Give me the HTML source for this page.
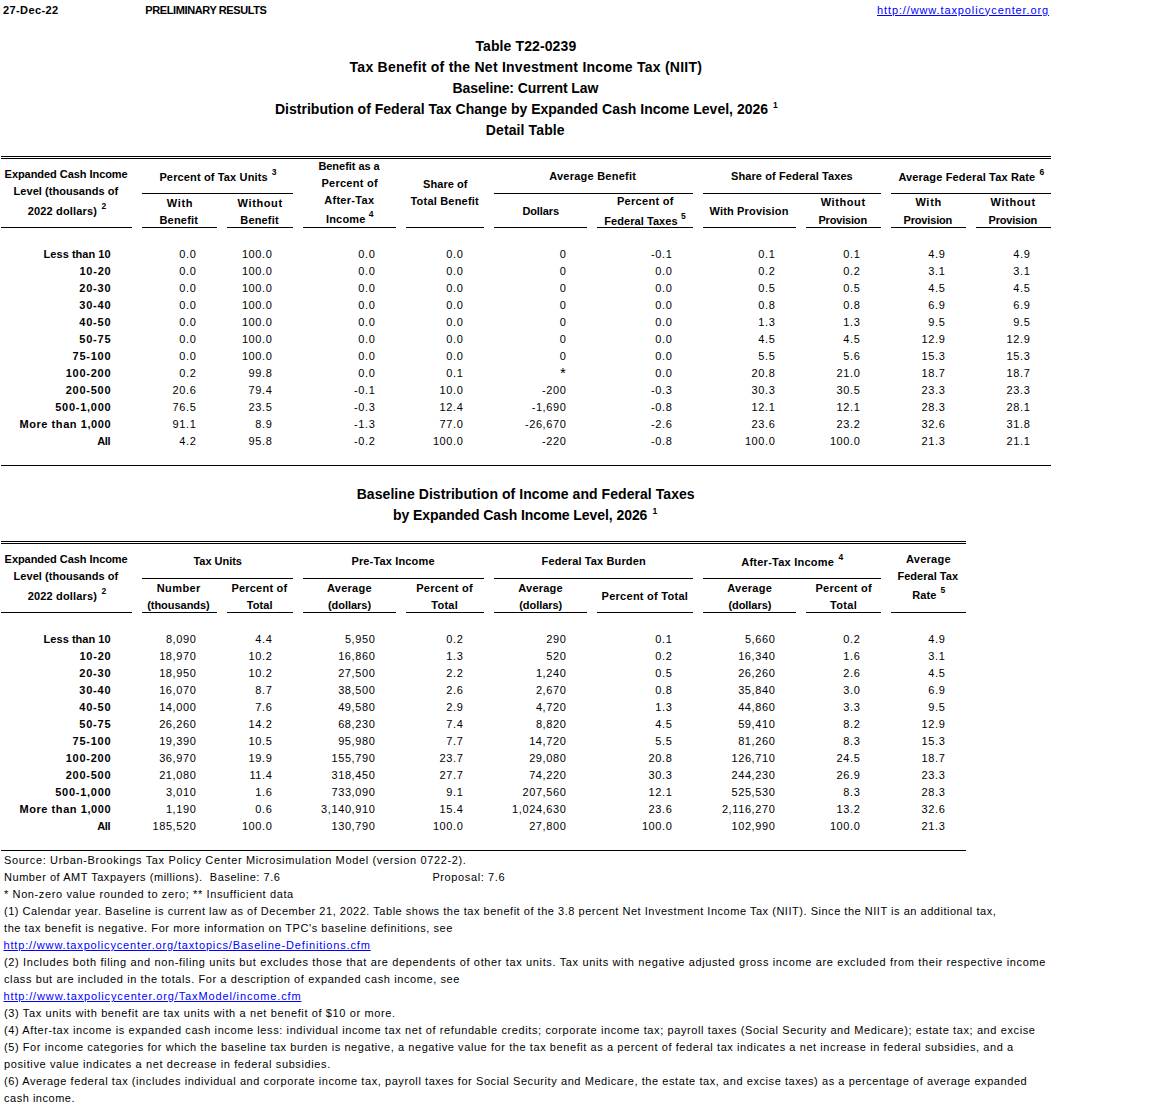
<!DOCTYPE html>
<html><head><meta charset="utf-8"><title>T22-0239</title>
<style>
html,body{margin:0;padding:0;background:#fff;}
body{width:1152px;height:1106px;position:relative;overflow:hidden;font-family:"Liberation Sans",sans-serif;color:#000;}
div{position:absolute;white-space:pre;line-height:0;height:0;}
.b{font-weight:bold;font-size:11px;}
.r{font-weight:normal;font-size:11px;}
.t{font-weight:bold;font-size:14px;}
.s{font-weight:bold;font-size:8.5px;}
.a{font-weight:normal;font-size:15px;}
.sr{font-weight:normal;font-size:7px;}
i{position:absolute;display:block;background:#000;}
</style></head><body>
<div class="b" style="left:3.00px;top:10.19px;letter-spacing:0.393px;">27-Dec-22</div>
<div class="b" style="left:145.30px;top:10.19px;letter-spacing:-0.395px;">PRELIMINARY RESULTS</div>
<div class="r" style="left:877.00px;top:9.69px;letter-spacing:0.883px;color:#0000ff;text-decoration:underline;">http://www.taxpolicycenter.org</div>
<div class="t" style="left:475.40px;top:46.15px;letter-spacing:0.111px;">Table T22-0239</div>
<div class="t" style="left:349.60px;top:67.15px;letter-spacing:0.243px;">Tax Benefit of the Net Investment Income Tax (NIIT)</div>
<div class="t" style="left:452.50px;top:88.15px;letter-spacing:-0.096px;">Baseline: Current Law</div>
<div class="t" style="left:275.00px;top:109.15px;letter-spacing:0.013px;">Distribution of Federal Tax Change by Expanded Cash Income Level, 2026</div>
<div class="s" style="left:773.00px;top:105.05px;">1</div>
<div class="t" style="left:485.80px;top:130.15px;letter-spacing:0.113px;">Detail Table</div>
<div class="b" style="left:4.60px;top:174.19px;letter-spacing:-0.051px;">Expanded Cash Income</div>
<div class="b" style="left:13.60px;top:191.19px;letter-spacing:0.037px;">Level (thousands of</div>
<div class="b" style="left:27.70px;top:211.19px;letter-spacing:0.159px;">2022 dollars)</div>
<div class="s" style="left:101.50px;top:206.05px;">2</div>
<div class="b" style="left:159.40px;top:177.19px;letter-spacing:0.141px;">Percent of Tax Units</div>
<div class="s" style="left:271.70px;top:172.05px;">3</div>
<div class="b" style="left:166.70px;top:202.69px;letter-spacing:0.698px;">With</div>
<div class="b" style="left:159.40px;top:220.19px;letter-spacing:0.214px;">Benefit</div>
<div class="b" style="left:237.60px;top:202.69px;letter-spacing:0.606px;">Without</div>
<div class="b" style="left:240.30px;top:220.19px;letter-spacing:0.164px;">Benefit</div>
<div class="b" style="left:318.40px;top:166.19px;letter-spacing:-0.039px;">Benefit as a</div>
<div class="b" style="left:321.40px;top:183.19px;letter-spacing:0.275px;">Percent of</div>
<div class="b" style="left:324.20px;top:200.19px;letter-spacing:0.293px;">After-Tax</div>
<div class="b" style="left:325.90px;top:219.39px;letter-spacing:0.201px;">Income</div>
<div class="s" style="left:368.80px;top:214.05px;">4</div>
<div class="b" style="left:423.10px;top:183.79px;letter-spacing:0.036px;">Share of</div>
<div class="b" style="left:410.50px;top:200.69px;letter-spacing:0.197px;">Total Benefit</div>
<div class="b" style="left:549.20px;top:175.69px;letter-spacing:0.237px;">Average Benefit</div>
<div class="b" style="left:522.40px;top:210.89px;letter-spacing:-0.112px;">Dollars</div>
<div class="b" style="left:617.00px;top:200.89px;letter-spacing:0.286px;">Percent of</div>
<div class="b" style="left:604.30px;top:220.89px;letter-spacing:0.055px;">Federal Taxes</div>
<div class="s" style="left:681.00px;top:216.05px;">5</div>
<div class="b" style="left:731.00px;top:175.99px;letter-spacing:0.100px;">Share of Federal Taxes</div>
<div class="b" style="left:709.60px;top:210.59px;letter-spacing:0.147px;">With Provision</div>
<div class="b" style="left:820.70px;top:202.39px;letter-spacing:0.590px;">Without</div>
<div class="b" style="left:818.40px;top:219.69px;letter-spacing:-0.175px;">Provision</div>
<div class="b" style="left:898.40px;top:176.69px;letter-spacing:0.154px;">Average Federal Tax Rate</div>
<div class="s" style="left:1039.60px;top:172.05px;">6</div>
<div class="b" style="left:915.40px;top:202.49px;letter-spacing:0.698px;">With</div>
<div class="b" style="left:903.50px;top:219.69px;letter-spacing:-0.163px;">Provision</div>
<div class="b" style="left:990.60px;top:202.49px;letter-spacing:0.606px;">Without</div>
<div class="b" style="left:988.60px;top:219.69px;letter-spacing:-0.200px;">Provision</div>
<div class="b" style="left:43.60px;top:254.19px;letter-spacing:0.034px;">Less than 10</div>
<div class="b" style="left:79.50px;top:271.19px;letter-spacing:0.746px;">10-20</div>
<div class="b" style="left:79.30px;top:288.19px;letter-spacing:0.796px;">20-30</div>
<div class="b" style="left:79.30px;top:305.19px;letter-spacing:0.796px;">30-40</div>
<div class="b" style="left:79.30px;top:322.19px;letter-spacing:0.796px;">40-50</div>
<div class="b" style="left:79.30px;top:339.19px;letter-spacing:0.796px;">50-75</div>
<div class="b" style="left:72.50px;top:356.19px;letter-spacing:0.773px;">75-100</div>
<div class="b" style="left:65.70px;top:373.19px;letter-spacing:0.758px;">100-200</div>
<div class="b" style="left:65.70px;top:390.19px;letter-spacing:0.758px;">200-500</div>
<div class="b" style="left:55.20px;top:407.19px;letter-spacing:0.734px;">500-1,000</div>
<div class="b" style="left:19.40px;top:424.19px;letter-spacing:0.577px;">More than 1,000</div>
<div class="b" style="left:97.20px;top:441.19px;letter-spacing:-0.350px;">All</div>
<div class="r" style="left:179.33px;top:254.19px;letter-spacing:0.600px;">0.0</div>
<div class="r" style="left:179.33px;top:271.19px;letter-spacing:0.600px;">0.0</div>
<div class="r" style="left:179.33px;top:288.19px;letter-spacing:0.600px;">0.0</div>
<div class="r" style="left:179.33px;top:305.19px;letter-spacing:0.600px;">0.0</div>
<div class="r" style="left:179.33px;top:322.19px;letter-spacing:0.600px;">0.0</div>
<div class="r" style="left:179.33px;top:339.19px;letter-spacing:0.600px;">0.0</div>
<div class="r" style="left:179.33px;top:356.19px;letter-spacing:0.600px;">0.0</div>
<div class="r" style="left:179.33px;top:373.19px;letter-spacing:0.600px;">0.2</div>
<div class="r" style="left:172.61px;top:390.19px;letter-spacing:0.600px;">20.6</div>
<div class="r" style="left:172.61px;top:407.19px;letter-spacing:0.600px;">76.5</div>
<div class="r" style="left:172.61px;top:424.19px;letter-spacing:0.600px;">91.1</div>
<div class="r" style="left:179.33px;top:441.19px;letter-spacing:0.600px;">4.2</div>
<div class="r" style="left:241.89px;top:254.19px;letter-spacing:0.600px;">100.0</div>
<div class="r" style="left:241.89px;top:271.19px;letter-spacing:0.600px;">100.0</div>
<div class="r" style="left:241.89px;top:288.19px;letter-spacing:0.600px;">100.0</div>
<div class="r" style="left:241.89px;top:305.19px;letter-spacing:0.600px;">100.0</div>
<div class="r" style="left:241.89px;top:322.19px;letter-spacing:0.600px;">100.0</div>
<div class="r" style="left:241.89px;top:339.19px;letter-spacing:0.600px;">100.0</div>
<div class="r" style="left:241.89px;top:356.19px;letter-spacing:0.600px;">100.0</div>
<div class="r" style="left:248.61px;top:373.19px;letter-spacing:0.600px;">99.8</div>
<div class="r" style="left:248.61px;top:390.19px;letter-spacing:0.600px;">79.4</div>
<div class="r" style="left:248.61px;top:407.19px;letter-spacing:0.600px;">23.5</div>
<div class="r" style="left:255.33px;top:424.19px;letter-spacing:0.600px;">8.9</div>
<div class="r" style="left:248.61px;top:441.19px;letter-spacing:0.600px;">95.8</div>
<div class="r" style="left:358.33px;top:254.19px;letter-spacing:0.600px;">0.0</div>
<div class="r" style="left:358.33px;top:271.19px;letter-spacing:0.600px;">0.0</div>
<div class="r" style="left:358.33px;top:288.19px;letter-spacing:0.600px;">0.0</div>
<div class="r" style="left:358.33px;top:305.19px;letter-spacing:0.600px;">0.0</div>
<div class="r" style="left:358.33px;top:322.19px;letter-spacing:0.600px;">0.0</div>
<div class="r" style="left:358.33px;top:339.19px;letter-spacing:0.600px;">0.0</div>
<div class="r" style="left:358.33px;top:356.19px;letter-spacing:0.600px;">0.0</div>
<div class="r" style="left:358.33px;top:373.19px;letter-spacing:0.600px;">0.0</div>
<div class="r" style="left:354.06px;top:390.19px;letter-spacing:0.600px;">-0.1</div>
<div class="r" style="left:354.06px;top:407.19px;letter-spacing:0.600px;">-0.3</div>
<div class="r" style="left:354.06px;top:424.19px;letter-spacing:0.600px;">-1.3</div>
<div class="r" style="left:354.06px;top:441.19px;letter-spacing:0.600px;">-0.2</div>
<div class="r" style="left:446.33px;top:254.19px;letter-spacing:0.600px;">0.0</div>
<div class="r" style="left:446.33px;top:271.19px;letter-spacing:0.600px;">0.0</div>
<div class="r" style="left:446.33px;top:288.19px;letter-spacing:0.600px;">0.0</div>
<div class="r" style="left:446.33px;top:305.19px;letter-spacing:0.600px;">0.0</div>
<div class="r" style="left:446.33px;top:322.19px;letter-spacing:0.600px;">0.0</div>
<div class="r" style="left:446.33px;top:339.19px;letter-spacing:0.600px;">0.0</div>
<div class="r" style="left:446.33px;top:356.19px;letter-spacing:0.600px;">0.0</div>
<div class="r" style="left:446.33px;top:373.19px;letter-spacing:0.600px;">0.1</div>
<div class="r" style="left:439.61px;top:390.19px;letter-spacing:0.600px;">10.0</div>
<div class="r" style="left:439.61px;top:407.19px;letter-spacing:0.600px;">12.4</div>
<div class="r" style="left:439.61px;top:424.19px;letter-spacing:0.600px;">77.0</div>
<div class="r" style="left:432.89px;top:441.19px;letter-spacing:0.600px;">100.0</div>
<div class="r" style="left:559.70px;top:254.19px;letter-spacing:0.600px;">0</div>
<div class="r" style="left:559.70px;top:271.19px;letter-spacing:0.600px;">0</div>
<div class="r" style="left:559.70px;top:288.19px;letter-spacing:0.600px;">0</div>
<div class="r" style="left:559.70px;top:305.19px;letter-spacing:0.600px;">0</div>
<div class="r" style="left:559.70px;top:322.19px;letter-spacing:0.600px;">0</div>
<div class="r" style="left:559.70px;top:339.19px;letter-spacing:0.600px;">0</div>
<div class="r" style="left:559.70px;top:356.19px;letter-spacing:0.600px;">0</div>
<div class="a" style="left:560.10px;top:372.80px;">*</div>
<div class="r" style="left:542.00px;top:390.19px;letter-spacing:0.600px;">-200</div>
<div class="r" style="left:531.63px;top:407.19px;letter-spacing:0.600px;">-1,690</div>
<div class="r" style="left:524.91px;top:424.19px;letter-spacing:0.600px;">-26,670</div>
<div class="r" style="left:542.00px;top:441.19px;letter-spacing:0.600px;">-220</div>
<div class="r" style="left:651.06px;top:254.19px;letter-spacing:0.600px;">-0.1</div>
<div class="r" style="left:655.33px;top:271.19px;letter-spacing:0.600px;">0.0</div>
<div class="r" style="left:655.33px;top:288.19px;letter-spacing:0.600px;">0.0</div>
<div class="r" style="left:655.33px;top:305.19px;letter-spacing:0.600px;">0.0</div>
<div class="r" style="left:655.33px;top:322.19px;letter-spacing:0.600px;">0.0</div>
<div class="r" style="left:655.33px;top:339.19px;letter-spacing:0.600px;">0.0</div>
<div class="r" style="left:655.33px;top:356.19px;letter-spacing:0.600px;">0.0</div>
<div class="r" style="left:655.33px;top:373.19px;letter-spacing:0.600px;">0.0</div>
<div class="r" style="left:651.06px;top:390.19px;letter-spacing:0.600px;">-0.3</div>
<div class="r" style="left:651.06px;top:407.19px;letter-spacing:0.600px;">-0.8</div>
<div class="r" style="left:651.06px;top:424.19px;letter-spacing:0.600px;">-2.6</div>
<div class="r" style="left:651.06px;top:441.19px;letter-spacing:0.600px;">-0.8</div>
<div class="r" style="left:758.33px;top:254.19px;letter-spacing:0.600px;">0.1</div>
<div class="r" style="left:758.33px;top:271.19px;letter-spacing:0.600px;">0.2</div>
<div class="r" style="left:758.33px;top:288.19px;letter-spacing:0.600px;">0.5</div>
<div class="r" style="left:758.33px;top:305.19px;letter-spacing:0.600px;">0.8</div>
<div class="r" style="left:758.33px;top:322.19px;letter-spacing:0.600px;">1.3</div>
<div class="r" style="left:758.33px;top:339.19px;letter-spacing:0.600px;">4.5</div>
<div class="r" style="left:758.33px;top:356.19px;letter-spacing:0.600px;">5.5</div>
<div class="r" style="left:751.61px;top:373.19px;letter-spacing:0.600px;">20.8</div>
<div class="r" style="left:751.61px;top:390.19px;letter-spacing:0.600px;">30.3</div>
<div class="r" style="left:751.61px;top:407.19px;letter-spacing:0.600px;">12.1</div>
<div class="r" style="left:751.61px;top:424.19px;letter-spacing:0.600px;">23.6</div>
<div class="r" style="left:744.89px;top:441.19px;letter-spacing:0.600px;">100.0</div>
<div class="r" style="left:843.33px;top:254.19px;letter-spacing:0.600px;">0.1</div>
<div class="r" style="left:843.33px;top:271.19px;letter-spacing:0.600px;">0.2</div>
<div class="r" style="left:843.33px;top:288.19px;letter-spacing:0.600px;">0.5</div>
<div class="r" style="left:843.33px;top:305.19px;letter-spacing:0.600px;">0.8</div>
<div class="r" style="left:843.33px;top:322.19px;letter-spacing:0.600px;">1.3</div>
<div class="r" style="left:843.33px;top:339.19px;letter-spacing:0.600px;">4.5</div>
<div class="r" style="left:843.33px;top:356.19px;letter-spacing:0.600px;">5.6</div>
<div class="r" style="left:836.61px;top:373.19px;letter-spacing:0.600px;">21.0</div>
<div class="r" style="left:836.61px;top:390.19px;letter-spacing:0.600px;">30.5</div>
<div class="r" style="left:836.61px;top:407.19px;letter-spacing:0.600px;">12.1</div>
<div class="r" style="left:836.61px;top:424.19px;letter-spacing:0.600px;">23.2</div>
<div class="r" style="left:829.89px;top:441.19px;letter-spacing:0.600px;">100.0</div>
<div class="r" style="left:928.33px;top:254.19px;letter-spacing:0.600px;">4.9</div>
<div class="r" style="left:928.33px;top:271.19px;letter-spacing:0.600px;">3.1</div>
<div class="r" style="left:928.33px;top:288.19px;letter-spacing:0.600px;">4.5</div>
<div class="r" style="left:928.33px;top:305.19px;letter-spacing:0.600px;">6.9</div>
<div class="r" style="left:928.33px;top:322.19px;letter-spacing:0.600px;">9.5</div>
<div class="r" style="left:921.61px;top:339.19px;letter-spacing:0.600px;">12.9</div>
<div class="r" style="left:921.61px;top:356.19px;letter-spacing:0.600px;">15.3</div>
<div class="r" style="left:921.61px;top:373.19px;letter-spacing:0.600px;">18.7</div>
<div class="r" style="left:921.61px;top:390.19px;letter-spacing:0.600px;">23.3</div>
<div class="r" style="left:921.61px;top:407.19px;letter-spacing:0.600px;">28.3</div>
<div class="r" style="left:921.61px;top:424.19px;letter-spacing:0.600px;">32.6</div>
<div class="r" style="left:921.61px;top:441.19px;letter-spacing:0.600px;">21.3</div>
<div class="r" style="left:1013.33px;top:254.19px;letter-spacing:0.600px;">4.9</div>
<div class="r" style="left:1013.33px;top:271.19px;letter-spacing:0.600px;">3.1</div>
<div class="r" style="left:1013.33px;top:288.19px;letter-spacing:0.600px;">4.5</div>
<div class="r" style="left:1013.33px;top:305.19px;letter-spacing:0.600px;">6.9</div>
<div class="r" style="left:1013.33px;top:322.19px;letter-spacing:0.600px;">9.5</div>
<div class="r" style="left:1006.61px;top:339.19px;letter-spacing:0.600px;">12.9</div>
<div class="r" style="left:1006.61px;top:356.19px;letter-spacing:0.600px;">15.3</div>
<div class="r" style="left:1006.61px;top:373.19px;letter-spacing:0.600px;">18.7</div>
<div class="r" style="left:1006.61px;top:390.19px;letter-spacing:0.600px;">23.3</div>
<div class="r" style="left:1006.61px;top:407.19px;letter-spacing:0.600px;">28.1</div>
<div class="r" style="left:1006.61px;top:424.19px;letter-spacing:0.600px;">31.8</div>
<div class="r" style="left:1006.61px;top:441.19px;letter-spacing:0.600px;">21.1</div>
<div class="t" style="left:356.70px;top:494.45px;letter-spacing:0.061px;">Baseline Distribution of Income and Federal Taxes</div>
<div class="t" style="left:393.00px;top:515.15px;letter-spacing:-0.070px;">by Expanded Cash Income Level, 2026</div>
<div class="s" style="left:652.50px;top:511.05px;">1</div>
<div class="b" style="left:4.60px;top:559.19px;letter-spacing:-0.051px;">Expanded Cash Income</div>
<div class="b" style="left:13.60px;top:576.19px;letter-spacing:0.037px;">Level (thousands of</div>
<div class="b" style="left:27.70px;top:596.19px;letter-spacing:0.159px;">2022 dollars)</div>
<div class="s" style="left:101.50px;top:591.05px;">2</div>
<div class="b" style="left:193.50px;top:560.59px;letter-spacing:-0.035px;">Tax Units</div>
<div class="b" style="left:156.70px;top:587.69px;letter-spacing:0.424px;">Number</div>
<div class="b" style="left:147.20px;top:604.59px;letter-spacing:-0.038px;">(thousands)</div>
<div class="b" style="left:231.40px;top:587.69px;letter-spacing:0.219px;">Percent of</div>
<div class="b" style="left:246.70px;top:604.59px;letter-spacing:0.124px;">Total</div>
<div class="b" style="left:351.40px;top:560.79px;letter-spacing:0.155px;">Pre-Tax Income</div>
<div class="b" style="left:327.10px;top:588.09px;letter-spacing:0.235px;">Average</div>
<div class="b" style="left:328.00px;top:604.59px;letter-spacing:-0.041px;">(dollars)</div>
<div class="b" style="left:416.20px;top:588.09px;letter-spacing:0.297px;">Percent of</div>
<div class="b" style="left:431.30px;top:604.59px;letter-spacing:0.249px;">Total</div>
<div class="b" style="left:541.60px;top:560.69px;letter-spacing:0.126px;">Federal Tax Burden</div>
<div class="b" style="left:518.30px;top:588.19px;letter-spacing:0.219px;">Average</div>
<div class="b" style="left:519.20px;top:604.99px;letter-spacing:-0.054px;">(dollars)</div>
<div class="b" style="left:601.60px;top:595.89px;letter-spacing:0.263px;">Percent of Total</div>
<div class="b" style="left:741.30px;top:562.29px;letter-spacing:0.232px;">After-Tax Income</div>
<div class="s" style="left:838.50px;top:557.05px;">4</div>
<div class="b" style="left:727.20px;top:587.89px;letter-spacing:0.269px;">Average</div>
<div class="b" style="left:728.40px;top:604.89px;letter-spacing:-0.054px;">(dollars)</div>
<div class="b" style="left:815.50px;top:587.89px;letter-spacing:0.275px;">Percent of</div>
<div class="b" style="left:830.00px;top:604.89px;letter-spacing:0.349px;">Total</div>
<div class="b" style="left:906.10px;top:558.69px;letter-spacing:0.235px;">Average</div>
<div class="b" style="left:897.40px;top:575.69px;letter-spacing:0.029px;">Federal Tax</div>
<div class="b" style="left:912.20px;top:595.19px;letter-spacing:0.125px;">Rate</div>
<div class="s" style="left:940.60px;top:590.05px;">5</div>
<div class="b" style="left:43.60px;top:639.19px;letter-spacing:0.034px;">Less than 10</div>
<div class="b" style="left:79.50px;top:656.19px;letter-spacing:0.746px;">10-20</div>
<div class="b" style="left:79.30px;top:673.19px;letter-spacing:0.796px;">20-30</div>
<div class="b" style="left:79.30px;top:690.19px;letter-spacing:0.796px;">30-40</div>
<div class="b" style="left:79.30px;top:707.19px;letter-spacing:0.796px;">40-50</div>
<div class="b" style="left:79.30px;top:724.19px;letter-spacing:0.796px;">50-75</div>
<div class="b" style="left:72.50px;top:741.19px;letter-spacing:0.773px;">75-100</div>
<div class="b" style="left:65.70px;top:758.19px;letter-spacing:0.758px;">100-200</div>
<div class="b" style="left:65.70px;top:775.19px;letter-spacing:0.758px;">200-500</div>
<div class="b" style="left:55.20px;top:792.19px;letter-spacing:0.734px;">500-1,000</div>
<div class="b" style="left:19.40px;top:809.19px;letter-spacing:0.577px;">More than 1,000</div>
<div class="b" style="left:97.20px;top:826.19px;letter-spacing:-0.350px;">All</div>
<div class="r" style="left:165.89px;top:639.19px;letter-spacing:0.600px;">8,090</div>
<div class="r" style="left:159.17px;top:656.19px;letter-spacing:0.600px;">18,970</div>
<div class="r" style="left:159.17px;top:673.19px;letter-spacing:0.600px;">18,950</div>
<div class="r" style="left:159.17px;top:690.19px;letter-spacing:0.600px;">16,070</div>
<div class="r" style="left:159.17px;top:707.19px;letter-spacing:0.600px;">14,000</div>
<div class="r" style="left:159.17px;top:724.19px;letter-spacing:0.600px;">26,260</div>
<div class="r" style="left:159.17px;top:741.19px;letter-spacing:0.600px;">19,390</div>
<div class="r" style="left:159.17px;top:758.19px;letter-spacing:0.600px;">36,970</div>
<div class="r" style="left:159.17px;top:775.19px;letter-spacing:0.600px;">21,080</div>
<div class="r" style="left:165.89px;top:792.19px;letter-spacing:0.600px;">3,010</div>
<div class="r" style="left:165.89px;top:809.19px;letter-spacing:0.600px;">1,190</div>
<div class="r" style="left:152.46px;top:826.19px;letter-spacing:0.600px;">185,520</div>
<div class="r" style="left:255.33px;top:639.19px;letter-spacing:0.600px;">4.4</div>
<div class="r" style="left:248.61px;top:656.19px;letter-spacing:0.600px;">10.2</div>
<div class="r" style="left:248.61px;top:673.19px;letter-spacing:0.600px;">10.2</div>
<div class="r" style="left:255.33px;top:690.19px;letter-spacing:0.600px;">8.7</div>
<div class="r" style="left:255.33px;top:707.19px;letter-spacing:0.600px;">7.6</div>
<div class="r" style="left:248.61px;top:724.19px;letter-spacing:0.600px;">14.2</div>
<div class="r" style="left:248.61px;top:741.19px;letter-spacing:0.600px;">10.5</div>
<div class="r" style="left:248.61px;top:758.19px;letter-spacing:0.600px;">19.9</div>
<div class="r" style="left:249.42px;top:775.19px;letter-spacing:0.600px;">11.4</div>
<div class="r" style="left:255.33px;top:792.19px;letter-spacing:0.600px;">1.6</div>
<div class="r" style="left:255.33px;top:809.19px;letter-spacing:0.600px;">0.6</div>
<div class="r" style="left:241.89px;top:826.19px;letter-spacing:0.600px;">100.0</div>
<div class="r" style="left:344.89px;top:639.19px;letter-spacing:0.600px;">5,950</div>
<div class="r" style="left:338.17px;top:656.19px;letter-spacing:0.600px;">16,860</div>
<div class="r" style="left:338.17px;top:673.19px;letter-spacing:0.600px;">27,500</div>
<div class="r" style="left:338.17px;top:690.19px;letter-spacing:0.600px;">38,500</div>
<div class="r" style="left:338.17px;top:707.19px;letter-spacing:0.600px;">49,580</div>
<div class="r" style="left:338.17px;top:724.19px;letter-spacing:0.600px;">68,230</div>
<div class="r" style="left:338.17px;top:741.19px;letter-spacing:0.600px;">95,980</div>
<div class="r" style="left:331.46px;top:758.19px;letter-spacing:0.600px;">155,790</div>
<div class="r" style="left:331.46px;top:775.19px;letter-spacing:0.600px;">318,450</div>
<div class="r" style="left:331.46px;top:792.19px;letter-spacing:0.600px;">733,090</div>
<div class="r" style="left:321.08px;top:809.19px;letter-spacing:0.600px;">3,140,910</div>
<div class="r" style="left:331.46px;top:826.19px;letter-spacing:0.600px;">130,790</div>
<div class="r" style="left:446.33px;top:639.19px;letter-spacing:0.600px;">0.2</div>
<div class="r" style="left:446.33px;top:656.19px;letter-spacing:0.600px;">1.3</div>
<div class="r" style="left:446.33px;top:673.19px;letter-spacing:0.600px;">2.2</div>
<div class="r" style="left:446.33px;top:690.19px;letter-spacing:0.600px;">2.6</div>
<div class="r" style="left:446.33px;top:707.19px;letter-spacing:0.600px;">2.9</div>
<div class="r" style="left:446.33px;top:724.19px;letter-spacing:0.600px;">7.4</div>
<div class="r" style="left:446.33px;top:741.19px;letter-spacing:0.600px;">7.7</div>
<div class="r" style="left:439.61px;top:758.19px;letter-spacing:0.600px;">23.7</div>
<div class="r" style="left:439.61px;top:775.19px;letter-spacing:0.600px;">27.7</div>
<div class="r" style="left:446.33px;top:792.19px;letter-spacing:0.600px;">9.1</div>
<div class="r" style="left:439.61px;top:809.19px;letter-spacing:0.600px;">15.4</div>
<div class="r" style="left:432.89px;top:826.19px;letter-spacing:0.600px;">100.0</div>
<div class="r" style="left:546.26px;top:639.19px;letter-spacing:0.600px;">290</div>
<div class="r" style="left:546.26px;top:656.19px;letter-spacing:0.600px;">520</div>
<div class="r" style="left:535.89px;top:673.19px;letter-spacing:0.600px;">1,240</div>
<div class="r" style="left:535.89px;top:690.19px;letter-spacing:0.600px;">2,670</div>
<div class="r" style="left:535.89px;top:707.19px;letter-spacing:0.600px;">4,720</div>
<div class="r" style="left:535.89px;top:724.19px;letter-spacing:0.600px;">8,820</div>
<div class="r" style="left:529.17px;top:741.19px;letter-spacing:0.600px;">14,720</div>
<div class="r" style="left:529.17px;top:758.19px;letter-spacing:0.600px;">29,080</div>
<div class="r" style="left:529.17px;top:775.19px;letter-spacing:0.600px;">74,220</div>
<div class="r" style="left:522.46px;top:792.19px;letter-spacing:0.600px;">207,560</div>
<div class="r" style="left:512.08px;top:809.19px;letter-spacing:0.600px;">1,024,630</div>
<div class="r" style="left:529.17px;top:826.19px;letter-spacing:0.600px;">27,800</div>
<div class="r" style="left:655.33px;top:639.19px;letter-spacing:0.600px;">0.1</div>
<div class="r" style="left:655.33px;top:656.19px;letter-spacing:0.600px;">0.2</div>
<div class="r" style="left:655.33px;top:673.19px;letter-spacing:0.600px;">0.5</div>
<div class="r" style="left:655.33px;top:690.19px;letter-spacing:0.600px;">0.8</div>
<div class="r" style="left:655.33px;top:707.19px;letter-spacing:0.600px;">1.3</div>
<div class="r" style="left:655.33px;top:724.19px;letter-spacing:0.600px;">4.5</div>
<div class="r" style="left:655.33px;top:741.19px;letter-spacing:0.600px;">5.5</div>
<div class="r" style="left:648.61px;top:758.19px;letter-spacing:0.600px;">20.8</div>
<div class="r" style="left:648.61px;top:775.19px;letter-spacing:0.600px;">30.3</div>
<div class="r" style="left:648.61px;top:792.19px;letter-spacing:0.600px;">12.1</div>
<div class="r" style="left:648.61px;top:809.19px;letter-spacing:0.600px;">23.6</div>
<div class="r" style="left:641.89px;top:826.19px;letter-spacing:0.600px;">100.0</div>
<div class="r" style="left:744.89px;top:639.19px;letter-spacing:0.600px;">5,660</div>
<div class="r" style="left:738.17px;top:656.19px;letter-spacing:0.600px;">16,340</div>
<div class="r" style="left:738.17px;top:673.19px;letter-spacing:0.600px;">26,260</div>
<div class="r" style="left:738.17px;top:690.19px;letter-spacing:0.600px;">35,840</div>
<div class="r" style="left:738.17px;top:707.19px;letter-spacing:0.600px;">44,860</div>
<div class="r" style="left:738.17px;top:724.19px;letter-spacing:0.600px;">59,410</div>
<div class="r" style="left:738.17px;top:741.19px;letter-spacing:0.600px;">81,260</div>
<div class="r" style="left:731.46px;top:758.19px;letter-spacing:0.600px;">126,710</div>
<div class="r" style="left:731.46px;top:775.19px;letter-spacing:0.600px;">244,230</div>
<div class="r" style="left:731.46px;top:792.19px;letter-spacing:0.600px;">525,530</div>
<div class="r" style="left:721.90px;top:809.19px;letter-spacing:0.600px;">2,116,270</div>
<div class="r" style="left:731.46px;top:826.19px;letter-spacing:0.600px;">102,990</div>
<div class="r" style="left:843.33px;top:639.19px;letter-spacing:0.600px;">0.2</div>
<div class="r" style="left:843.33px;top:656.19px;letter-spacing:0.600px;">1.6</div>
<div class="r" style="left:843.33px;top:673.19px;letter-spacing:0.600px;">2.6</div>
<div class="r" style="left:843.33px;top:690.19px;letter-spacing:0.600px;">3.0</div>
<div class="r" style="left:843.33px;top:707.19px;letter-spacing:0.600px;">3.3</div>
<div class="r" style="left:843.33px;top:724.19px;letter-spacing:0.600px;">8.2</div>
<div class="r" style="left:843.33px;top:741.19px;letter-spacing:0.600px;">8.3</div>
<div class="r" style="left:836.61px;top:758.19px;letter-spacing:0.600px;">24.5</div>
<div class="r" style="left:836.61px;top:775.19px;letter-spacing:0.600px;">26.9</div>
<div class="r" style="left:843.33px;top:792.19px;letter-spacing:0.600px;">8.3</div>
<div class="r" style="left:836.61px;top:809.19px;letter-spacing:0.600px;">13.2</div>
<div class="r" style="left:829.89px;top:826.19px;letter-spacing:0.600px;">100.0</div>
<div class="r" style="left:928.33px;top:639.19px;letter-spacing:0.600px;">4.9</div>
<div class="r" style="left:928.33px;top:656.19px;letter-spacing:0.600px;">3.1</div>
<div class="r" style="left:928.33px;top:673.19px;letter-spacing:0.600px;">4.5</div>
<div class="r" style="left:928.33px;top:690.19px;letter-spacing:0.600px;">6.9</div>
<div class="r" style="left:928.33px;top:707.19px;letter-spacing:0.600px;">9.5</div>
<div class="r" style="left:921.61px;top:724.19px;letter-spacing:0.600px;">12.9</div>
<div class="r" style="left:921.61px;top:741.19px;letter-spacing:0.600px;">15.3</div>
<div class="r" style="left:921.61px;top:758.19px;letter-spacing:0.600px;">18.7</div>
<div class="r" style="left:921.61px;top:775.19px;letter-spacing:0.600px;">23.3</div>
<div class="r" style="left:921.61px;top:792.19px;letter-spacing:0.600px;">28.3</div>
<div class="r" style="left:921.61px;top:809.19px;letter-spacing:0.600px;">32.6</div>
<div class="r" style="left:921.61px;top:826.19px;letter-spacing:0.600px;">21.3</div>
<div class="r" style="left:4.00px;top:860.19px;letter-spacing:0.640px;">Source: Urban-Brookings Tax Policy Center Microsimulation Model (version 0722-2).</div>
<div class="r" style="left:4.00px;top:877.19px;letter-spacing:0.536px;">Number of AMT Taxpayers (millions).  Baseline: 7.6</div>
<div class="r" style="left:4.00px;top:894.19px;letter-spacing:0.615px;">* Non-zero value rounded to zero; ** Insufficient data</div>
<div class="r" style="left:4.00px;top:911.19px;letter-spacing:0.525px;">(1) Calendar year. Baseline is current law as of December 21, 2022. Table shows the tax benefit of the 3.8 percent Net Investment Income Tax (NIIT). Since the NIIT is an additional tax,</div>
<div class="r" style="left:4.00px;top:928.19px;letter-spacing:0.569px;">the tax benefit is negative. For more information on TPC's baseline definitions, see</div>
<div class="r" style="left:3.50px;top:945.19px;letter-spacing:0.833px;color:#0000ff;text-decoration:underline;">http://www.taxpolicycenter.org/taxtopics/Baseline-Definitions.cfm</div>
<div class="r" style="left:4.00px;top:962.19px;letter-spacing:0.635px;">(2) Includes both filing and non-filing units but excludes those that are dependents of other tax units. Tax units with negative adjusted gross income are excluded from their respective income</div>
<div class="r" style="left:4.00px;top:979.19px;letter-spacing:0.595px;">class but are included in the totals. For a description of expanded cash income, see</div>
<div class="r" style="left:3.50px;top:996.19px;letter-spacing:0.860px;color:#0000ff;text-decoration:underline;">http://www.taxpolicycenter.org/TaxModel/income.cfm</div>
<div class="r" style="left:4.00px;top:1013.19px;letter-spacing:0.618px;">(3) Tax units with benefit are tax units with a net benefit of $10 or more.</div>
<div class="r" style="left:4.00px;top:1030.19px;letter-spacing:0.602px;">(4) After-tax income is expanded cash income less: individual income tax net of refundable credits; corporate income tax; payroll taxes (Social Security and Medicare); estate tax; and excise</div>
<div class="r" style="left:4.00px;top:1047.19px;letter-spacing:0.580px;">(5) For income categories for which the baseline tax burden is negative, a negative value for the tax benefit as a percent of federal tax indicates a net increase in federal subsidies, and a</div>
<div class="r" style="left:4.00px;top:1064.19px;letter-spacing:0.617px;">positive value indicates a net decrease in federal subsidies.</div>
<div class="r" style="left:4.00px;top:1081.19px;letter-spacing:0.572px;">(6) Average federal tax (includes individual and corporate income tax, payroll taxes for Social Security and Medicare, the estate tax, and excise taxes) as a percentage of average expanded</div>
<div class="r" style="left:4.00px;top:1098.19px;letter-spacing:0.523px;">cash income.</div>
<div class="r" style="left:432.40px;top:877.19px;letter-spacing:0.617px;">Proposal: 7.6</div>
<i style="left:1px;top:156px;width:1050px;height:1px"></i>
<i style="left:1px;top:158px;width:1050px;height:1px"></i>
<i style="left:142px;top:193px;width:151px;height:1px"></i>
<i style="left:494px;top:193px;width:199px;height:1px"></i>
<i style="left:703px;top:193px;width:178px;height:1px"></i>
<i style="left:891px;top:193px;width:160px;height:1px"></i>
<i style="left:1px;top:227px;width:131px;height:1px"></i>
<i style="left:142px;top:227px;width:75px;height:1px"></i>
<i style="left:227px;top:227px;width:66px;height:1px"></i>
<i style="left:303px;top:227px;width:93px;height:1px"></i>
<i style="left:406px;top:227px;width:78px;height:1px"></i>
<i style="left:494px;top:227px;width:93px;height:1px"></i>
<i style="left:597px;top:227px;width:96px;height:1px"></i>
<i style="left:703px;top:227px;width:93px;height:1px"></i>
<i style="left:806px;top:227px;width:75px;height:1px"></i>
<i style="left:891px;top:227px;width:75px;height:1px"></i>
<i style="left:976px;top:227px;width:75px;height:1px"></i>
<i style="left:1px;top:465px;width:1050px;height:1px"></i>
<i style="left:1px;top:541px;width:965px;height:1px"></i>
<i style="left:1px;top:543px;width:965px;height:1px"></i>
<i style="left:142px;top:578px;width:151px;height:1px"></i>
<i style="left:303px;top:578px;width:181px;height:1px"></i>
<i style="left:494px;top:578px;width:199px;height:1px"></i>
<i style="left:703px;top:578px;width:178px;height:1px"></i>
<i style="left:1px;top:612px;width:131px;height:1px"></i>
<i style="left:142px;top:612px;width:75px;height:1px"></i>
<i style="left:227px;top:612px;width:66px;height:1px"></i>
<i style="left:303px;top:612px;width:93px;height:1px"></i>
<i style="left:406px;top:612px;width:78px;height:1px"></i>
<i style="left:494px;top:612px;width:93px;height:1px"></i>
<i style="left:597px;top:612px;width:96px;height:1px"></i>
<i style="left:703px;top:612px;width:93px;height:1px"></i>
<i style="left:806px;top:612px;width:75px;height:1px"></i>
<i style="left:891px;top:612px;width:75px;height:1px"></i>
<i style="left:1px;top:850px;width:965px;height:1px"></i>
</body></html>
